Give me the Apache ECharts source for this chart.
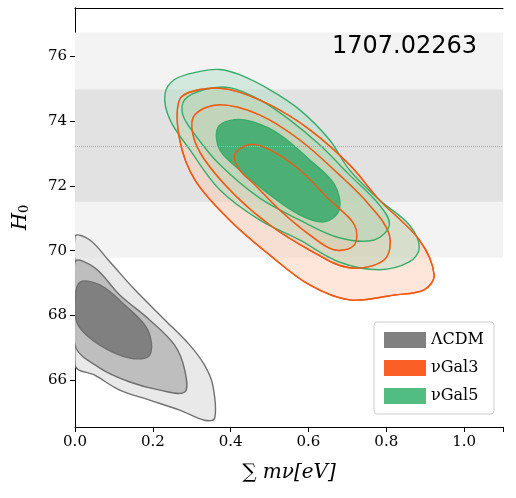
<!DOCTYPE html>
<html>
<head>
<meta charset="utf-8" />
<script src="https://cdn.jsdelivr.net/npm/echarts@6/dist/echarts.min.js"></script>
<style>
  html, body, #main { width: 100%; height: 100%; margin: 0; overflow: hidden; background: #fff; }
</style>
</head>
<body>
<div id="main"></div>
<script type="text/javascript">
// H0 local measurement bands
var band2 = [69.78, 76.74];
var band1 = [71.51, 74.98];
var h0Mean = 73.24;

// contours [sum m_nu, H0], levels: outer, middle, inner
var lcdm = [
  [[0,70.43],[0.038,70.33],[0.09,69.65],[0.154,68.79],[0.231,67.86],[0.295,67.08],[0.333,66.46],[0.354,65.85],[0.359,64.82],[0.333,64.76],[0.269,65.07],[0.192,65.38],[0.115,65.69],[0.051,66.15],[0,66.46]],
  [[0,69.65],[0.051,69.47],[0.115,68.63],[0.192,67.86],[0.256,67.08],[0.282,66.31],[0.282,65.63],[0.218,65.69],[0.141,65.94],[0.064,66.37],[0,67.08]],
  [[0.013,69.03],[0.064,68.94],[0.128,68.32],[0.187,67.55],[0.192,66.77],[0.141,66.68],[0.064,67.08],[0.008,67.7],[0,68.48]]
];
var gal3 = [
  [[0.269,74.67],[0.321,74.98],[0.397,74.98],[0.5,74.51],[0.603,73.74],[0.705,72.66],[0.782,71.57],[0.885,70.33],[0.923,69.25],[0.897,68.79],[0.821,68.63],[0.705,68.48],[0.603,68.94],[0.5,69.87],[0.397,70.95],[0.308,72.19],[0.269,73.43]],
  [[0.308,74.2],[0.372,74.51],[0.474,74.2],[0.577,73.43],[0.679,72.35],[0.756,71.42],[0.808,70.49],[0.795,69.72],[0.705,69.47],[0.603,70.02],[0.5,70.8],[0.41,71.73],[0.333,72.81],[0.303,73.59]],
  [[0.41,72.97],[0.449,73.28],[0.5,73.12],[0.577,72.5],[0.654,71.57],[0.718,70.8],[0.718,70.18],[0.667,70.02],[0.603,70.49],[0.526,71.26],[0.462,72.04],[0.423,72.5]]
];
var gal5 = [
  [[0.231,74.82],[0.256,75.29],[0.321,75.54],[0.372,75.6],[0.423,75.44],[0.5,74.98],[0.577,74.36],[0.654,73.43],[0.705,72.5],[0.782,71.57],[0.859,70.8],[0.885,70.09],[0.859,69.65],[0.782,69.41],[0.679,69.65],[0.577,70.33],[0.474,70.95],[0.372,71.88],[0.295,73.12],[0.244,74.05]],
  [[0.282,74.67],[0.333,74.98],[0.397,75.04],[0.474,74.67],[0.551,74.05],[0.628,73.28],[0.705,72.35],[0.782,71.42],[0.808,70.8],[0.769,70.33],[0.679,70.4],[0.577,70.95],[0.474,71.63],[0.372,72.66],[0.308,73.59],[0.277,74.2]],
  [[0.367,73.8],[0.41,74.05],[0.462,73.96],[0.526,73.59],[0.603,72.81],[0.667,72.04],[0.679,71.26],[0.641,70.89],[0.577,71.11],[0.5,71.73],[0.423,72.5],[0.372,73.12]]
];

var models = [
  { name: 'ΛCDM', data: lcdm, line: '#707070', fills: ['rgba(225,225,225,0.75)', 'rgba(185,185,185,0.9)', '#808080'], legend: '#808080' },
  { name: 'νGal3', data: gal3, line: '#f05a14', fills: ['rgba(255,200,175,0.45)', 'rgba(255,190,160,0.35)', 'rgba(255,170,130,0.3)'], legend: '#fa5f26' },
  { name: 'νGal5', data: gal5, line: '#3aac6a', fills: ['rgba(175,222,195,0.45)', 'rgba(160,215,180,0.35)', '#4caf75'], legend: '#52bd83' }
];

function polySeries(m, z, linesOnly) {
  return {
    name: linesOnly ? m.name + ' lines' : m.name, type: 'custom', clip: true, z: z,
    itemStyle: { color: m.legend },
    data: [0, 1, 2],
    renderItem: function (params, api) {
      var pts = m.data[params.dataIndex].map(function (p) { return api.coord(p); });
      return {
        type: 'polygon',
        shape: { points: pts, smooth: 0.35 },
        style: { fill: linesOnly ? 'none' : m.fills[params.dataIndex], stroke: m.line, lineWidth: 1.4 }
      };
    }
  };
}

var chart = echarts.init(document.getElementById('main'));
var serif = 'DejaVu Serif';
var ticksY = [66, 68, 70, 72, 74, 76];
var option = {
  animation: false,
  grid: { left: 75, right: 13, top: 8, bottom: 71 },
  title: { text: '1707.02263', right: 34, top: 30, textStyle: { fontFamily: 'DejaVu Sans', fontWeight: 'normal', fontSize: 24, color: '#000' } },
  legend: {
    right: 22, bottom: 84, orient: 'vertical', itemWidth: 42, itemHeight: 16, itemGap: 12,
    backgroundColor: '#fff', borderColor: '#ccc', borderWidth: 1, borderRadius: 3, padding: [10, 10],
    icon: 'rect', textStyle: { fontFamily: serif, fontSize: 16, color: '#000' },
    data: models.map(function (m) { return m.name; })
  },
  xAxis: [{
    type: 'value', min: 0, max: 1.1, interval: 0.2,
    name: '∑ mν[eV]', nameLocation: 'middle', nameGap: 36,
    nameTextStyle: { fontFamily: serif, fontSize: 20, fontStyle: 'italic', color: '#000' },
    axisLine: { lineStyle: { color: '#000' } }, axisTick: { lineStyle: { color: '#000' } },
    axisLabel: { fontFamily: serif, fontSize: 15, color: '#000', formatter: function (v) { return v > 1.05 ? '' : v.toFixed(1); } },
    splitLine: { show: false }
  }, {
    type: 'value', position: 'top', min: 0, max: 1.1,
    axisLine: { show: true, lineStyle: { color: '#000' } }, axisTick: { show: false }, axisLabel: { show: false }, splitLine: { show: false }
  }],
  yAxis: [{
    type: 'value', min: 64.55, max: 77.5, interval: 2,
    name: '{a|H}{b|0}', nameLocation: 'middle', nameGap: 44, nameRotate: 90,
    nameTextStyle: { rich: { a: { fontFamily: serif, fontSize: 20, fontStyle: 'italic', color: '#000' }, b: { fontFamily: serif, fontSize: 13, color: '#000', verticalAlign: 'bottom' } } },
    axisLine: { show: true, lineStyle: { color: '#000' } },
    axisLabel: { fontFamily: serif, fontSize: 15, color: '#000', customValues: ticksY, formatter: function (v) { return Math.round(v); } },
    axisTick: { show: true, customValues: ticksY, lineStyle: { color: '#000' } },
    splitLine: { show: false }
  }, {
    type: 'value', position: 'right', min: 64.55, max: 77.5,
    axisLine: { show: true, lineStyle: { color: '#000' } }, axisTick: { show: false }, axisLabel: { show: false }, splitLine: { show: false }
  }],
  series: [{
    type: 'line', data: [], silent: true, z: 1,
    markArea: { silent: true, data: [
      [{ yAxis: band2[0], itemStyle: { color: '#f3f3f3' } }, { yAxis: band2[1] }],
      [{ yAxis: band1[0], itemStyle: { color: '#e2e2e2' } }, { yAxis: band1[1] }]
    ] },
    markLine: { silent: true, symbol: 'none', label: { show: false }, lineStyle: { color: '#aaa', type: 'dotted', width: 1 }, data: [{ yAxis: h0Mean }] }
  },
  polySeries(models[0], 3, false),
  polySeries(models[1], 3, false),
  polySeries(models[2], 4, false),
  polySeries(models[1], 5, true)]
};
chart.setOption(option);
</script>
</body>
</html>
